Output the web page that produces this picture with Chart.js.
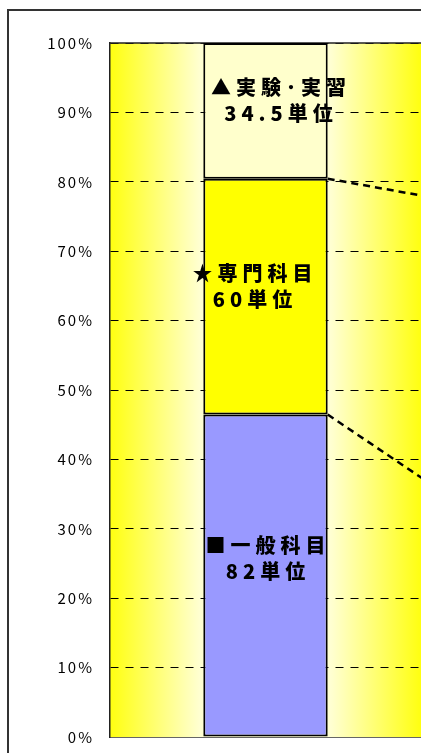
<!DOCTYPE html>
<html>
<head>
<meta charset="utf-8">
<script src="https://cdn.jsdelivr.net/npm/chart.js@4"></script>
<style>
  html, body { margin: 0; padding: 0; overflow: hidden; background: #fff; width: 421px; height: 753px; }
  #frame { position: absolute; left: 7px; top: 9px; width: 900px; height: 900px; border: 2px solid #333; }
  #wrap { position: absolute; left: 0; top: 0; width: 732px; height: 762px; }
</style>
</head>
<body>
<div id="frame"></div>
<div id="wrap"><canvas id="chart"></canvas></div>
<script>
// categories (only the first one is in view, the second one is where the series lines run to)
var categories = ['卒業要件', '比較'];
// credits per group
var generalUnits = [82, 36];
var majorUnits = [60, 60];
var practiceUnits = [34.5, 31];
var groupNames = ['一般科目', '専門科目', '実験･実習'];
var groupMarks = ['■', '★', '▲'];
var yTicks = [0, 10, 20, 30, 40, 50, 60, 70, 80, 90, 100];

// share of total in percent
function pct(arr, i) {
  var total = generalUnits[i] + majorUnits[i] + practiceUnits[i];
  return arr[i] / total * 100;
}
var units = [generalUnits, majorUnits, practiceUnits];
var colors = ['#9999FF', '#FFFF00', '#FFFFCC'];

var datasets = units.map(function (arr, k) {
  return {
    label: groupNames[k],
    data: categories.map(function (c, i) { return pct(arr, i); }),
    backgroundColor: colors[k],
    borderColor: '#000',
    borderWidth: 2,
    borderSkipped: false,
    barPercentage: 0.4,
    categoryPercentage: 1
  };
});

// yellow gradient behind the plot + plot border on top
const plotBg = {
  id: 'plotBg',
  beforeDraw(chart) {
    const { ctx, chartArea: a } = chart;
    const catW = (a.right - a.left) / categories.length;
    const g = ctx.createLinearGradient(a.left, 0, a.right, 0);
    const w = a.right - a.left;
    for (let i = 0; i < categories.length; i++) {
      const l = (i * catW) / w;
      g.addColorStop(l, '#FFFF10');
      g.addColorStop(l + 0.29 * catW / w, '#FFFFD2');
      g.addColorStop(l + 0.71 * catW / w, '#FFFFD2');
      g.addColorStop(l + catW / w - 0.0001, '#FFFF10');
    }
    ctx.save();
    ctx.fillStyle = g;
    ctx.fillRect(a.left, a.top, w, a.bottom - a.top);
    ctx.restore();
    ctx.letterSpacing = '2px';
  },
  beforeDatasetsDraw(chart) {
    const { ctx, chartArea: a } = chart;
    ctx.letterSpacing = '0px';
    ctx.save();
    ctx.strokeStyle = '#222';
    ctx.lineWidth = 1.5;
    ctx.beginPath();
    ctx.moveTo(a.left, a.top);
    ctx.lineTo(a.right, a.top);
    ctx.stroke();
    ctx.restore();
  }
};

// excel style series lines between the stacks
const seriesLines = {
  id: 'seriesLines',
  afterDatasetsDraw(chart) {
    const { ctx } = chart;
    ctx.save();
    ctx.strokeStyle = '#000';
    ctx.lineWidth = 2.5;
    ctx.setLineDash([7, 5]);
    for (let k = 0; k < datasets.length - 1; k++) {
      const m = chart.getDatasetMeta(k).data;
      for (let i = 0; i < m.length - 1; i++) {
        ctx.beginPath();
        ctx.moveTo(m[i].x + m[i].width / 2, m[i].y);
        ctx.lineTo(m[i + 1].x - m[i + 1].width / 2, m[i + 1].y);
        ctx.stroke();
      }
    }
    ctx.restore();
  }
};

// labels inside the first bar
const segLabels = {
  id: 'segLabels',
  afterDatasetsDraw(chart) {
    const { ctx } = chart;
    const dx = [0, -13, 13];
    const dy = [-17, -10, -10];
    ctx.save();
    ctx.font = '900 20px "Noto Sans CJK JP"';
    ctx.letterSpacing = '5px';
    ctx.fillStyle = '#000';
    ctx.textAlign = 'center';
    ctx.textBaseline = 'middle';
    for (let k = 0; k < datasets.length; k++) {
      const el = chart.getDatasetMeta(k).data[0];
      const x = el.x + dx[k] + 2.5;
      const y = (el.y + el.base) / 2 + dy[k];
      ctx.fillText(groupMarks[k] + groupNames[k], x, y - 13);
      ctx.fillText(units[k][0] + '単位', x, y + 13);
    }
    ctx.restore();
  }
};

new Chart(document.getElementById('chart'), {
  type: 'bar',
  data: { labels: categories, datasets: datasets },
  options: {
    responsive: true,
    maintainAspectRatio: false,
    animation: false,
    layout: { padding: { top: 43, bottom: 6, left: 0, right: 0 } },
    plugins: { legend: { display: false }, tooltip: { enabled: false } },
    scales: {
      x: {
        stacked: true,
        afterFit(s) { s.height = 0; },
        ticks: { display: false },
        grid: { display: false },
        border: { display: true, color: '#666', width: 1 }
      },
      y: {
        stacked: true,
        min: 0,
        max: 100,
        afterFit(s) { s.width = 110; },
        afterBuildTicks(s) { s.ticks = yTicks.map(function (v) { return { value: v }; }); },
        ticks: {
          padding: 16,
          color: '#000',
          font: { family: '"Noto Sans CJK JP"', size: 15 },
          callback: function (v) { return v + '%'; }
        },
        grid: { color: '#000', lineWidth: 1, drawTicks: false },
        border: { display: true, color: '#222', width: 1.5, dash: [8, 7] }
      }
    }
  },
  plugins: [plotBg, seriesLines, segLabels]
});
</script>
</body>
</html>
